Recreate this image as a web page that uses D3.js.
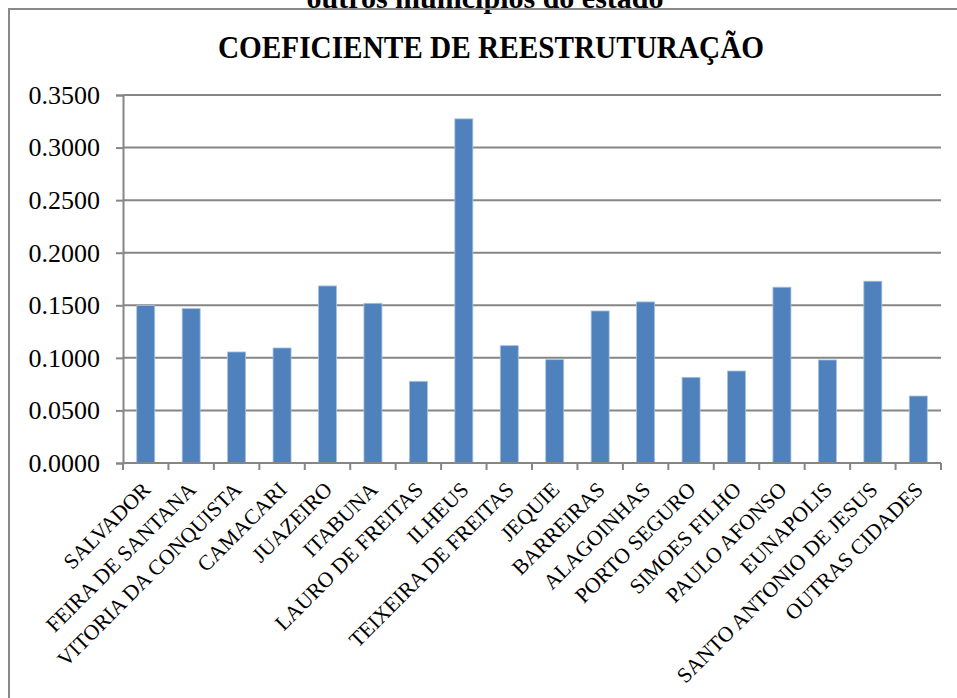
<!DOCTYPE html>
<html>
<head>
<meta charset="utf-8">
<script src="https://cdn.jsdelivr.net/npm/d3@7"></script>
<style>
  html, body { margin: 0; padding: 0; background: #fff; }
  svg { display: block; }
  text { font-family: "Liberation Serif", "Times New Roman", serif; fill: #000; }
</style>
</head>
<body>
<svg id="chart" width="957" height="698"></svg>
<script>
const categories = ["SALVADOR", "FEIRA DE SANTANA", "VITORIA DA CONQUISTA", "CAMACARI", "JUAZEIRO",
  "ITABUNA", "LAURO DE FREITAS", "ILHEUS", "TEIXEIRA DE FREITAS", "JEQUIE", "BARREIRAS",
  "ALAGOINHAS", "PORTO SEGURO", "SIMOES FILHO", "PAULO AFONSO", "EUNAPOLIS",
  "SANTO ANTONIO DE JESUS", "OUTRAS CIDADES"];
const values = [0.1497, 0.1468, 0.1056, 0.1094, 0.1684, 0.1519, 0.0777, 0.3273, 0.1116, 0.0983,
  0.1446, 0.1532, 0.0815, 0.0875, 0.1672, 0.0980, 0.1729, 0.0637];
const yTicks = [0, 0.05, 0.10, 0.15, 0.20, 0.25, 0.30, 0.35];
const chartTitle = "COEFICIENTE DE REESTRUTURAÇÃO";
const topText = "outros municípios do estado";

(function () {
const svg = d3.select("#chart");
const pLeft = 123, pRight = 941, pTop = 95, pBottom = 463;

// partially visible caption above the frame
svg.append("text").attr("x", 485).attr("y", 8)
  .attr("text-anchor", "middle").attr("font-size", 30).attr("font-weight", "bold")
  .text(topText);

// frame (cut at right and bottom)
svg.append("rect").attr("x", 9).attr("y", 9).attr("width", 980).attr("height", 720)
  .attr("fill", "none").attr("stroke", "#8a8a8a").attr("stroke-width", 2);

svg.append("text").attr("x", 491).attr("y", 58)
  .attr("text-anchor", "middle").attr("font-size", 32).attr("font-weight", "bold")
  .attr("textLength", 546).attr("lengthAdjust", "spacingAndGlyphs")
  .text(chartTitle);

const xb = d3.scaleBand().domain(categories).range([pLeft, pRight]);
const y = d3.scaleLinear().domain([0, 0.35]).range([pBottom, pTop]);

// gridlines
svg.append("g").selectAll("line").data(yTicks.slice(1)).join("line")
  .attr("x1", pLeft).attr("x2", pRight)
  .attr("y1", d => y(d)).attr("y2", d => y(d))
  .attr("stroke", "#868686").attr("stroke-width", 2);

// y axis
const yAxis = svg.append("g").attr("transform", `translate(${pLeft},0)`)
  .call(d3.axisLeft(y).tickValues(yTicks).tickFormat(d3.format(".4f")).tickSize(7).tickPadding(16));
yAxis.select(".domain").attr("stroke", "#868686").attr("stroke-width", 2);
yAxis.selectAll(".tick line").attr("stroke", "#868686").attr("stroke-width", 2);
yAxis.selectAll(".tick text").attr("font-size", 26)
  .attr("font-family", "'Liberation Serif', 'Times New Roman', serif").attr("fill", "#000");

// bars
svg.append("g").selectAll("rect").data(values).join("rect")
  .attr("x", (d, i) => xb(categories[i]) + (xb.bandwidth() - 18) / 2)
  .attr("width", 18)
  .attr("y", d => y(d))
  .attr("height", d => pBottom - y(d))
  .attr("fill", "#4F81BD")
  .attr("stroke", "#a9c1e0").attr("stroke-width", 0.8);

// x axis
const xAxisG = svg.append("g").attr("transform", `translate(0,${pBottom})`);
xAxisG.append("line").attr("x1", pLeft).attr("x2", pRight).attr("y1", 0).attr("y2", 0)
  .attr("stroke", "#868686").attr("stroke-width", 2);
const tickPos = categories.map(c => xb(c)).concat([pRight]);
xAxisG.selectAll("line.tk").data(tickPos).join("line").attr("class", "tk")
  .attr("x1", d => d).attr("x2", d => d).attr("y1", 0).attr("y2", 7)
  .attr("stroke", "#868686").attr("stroke-width", 2);

xAxisG.selectAll("text").data(categories).join("text")
  .attr("transform", d => `translate(${xb(d) + xb.bandwidth() / 2 + 6},${28}) rotate(-45)`)
  .attr("text-anchor", "end").attr("font-size", 21.5)
  .text(d => d);
})();
</script>
</body>
</html>
